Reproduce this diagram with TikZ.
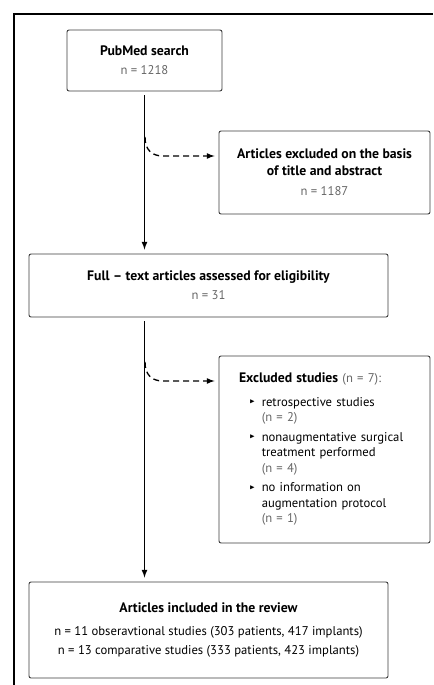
\documentclass[tikz,border=0pt]{standalone}
\usepackage{fontspec}
\setmainfont{PT Sans}
\usepackage{amssymb}
\usepackage{xcolor}
\definecolor{ngray}{HTML}{666666}
\definecolor{boxline}{HTML}{3C3C3C}

\begin{document}
\begin{tikzpicture}[x=0.75pt,y=-0.75pt,
    every node/.style={font=\fontsize{9.5}{12.5}\selectfont},
    box/.style={draw=boxline,line width=0.7pt,rounded corners=1.5pt,align=center,inner sep=0pt},
    flow/.style={line width=1pt,-latex,shorten <=3pt,shorten >=3pt},
    skip/.style={line width=1pt,-latex,dash pattern=on 4.5pt off 3pt,shorten >=3pt}]
    % Shorthands for headings, grey counts and list bullets
    \newcommand{\head}[1]{{\fontsize{10.3}{12.5}\selectfont\bfseries #1}}
    \newcommand{\ncount}[1]{\textcolor{ngray}{#1}}
    \newcommand{\tri}{\raisebox{0.35ex}{\scalebox{0.55}{$\blacktriangleright$}}}

    \useasboundingbox (0,0) rectangle (433,685);
    \draw[line width=2.2pt] (14,685) -- (14,14) -- (433,14);

    % Boxes of the flow
    \node[box,minimum width=116.25pt,minimum height=45.75pt] (search) at (144.5,60.5)
      {\head{PubMed search}\\[2pt] \ncount{n = 1218}};
    \node[box,minimum width=158.25pt,minimum height=62.25pt] (excl1) at (324.5,172.5)
      {\head{Articles excluded on the basis}\\ \head{of title and abstract}\\[3pt] \ncount{n = 1187}};
    \node[box,minimum width=269.25pt,minimum height=47.25pt] (full) at (208.5,285.5)
      {\head{Full -- text articles assessed for eligibility}\\[2pt] \ncount{n = 31}};
    \node[box,minimum width=158.25pt,minimum height=140.25pt,text width=128.25pt,align=left] (excl2) at (324.5,449.5)
      {\renewcommand{\arraystretch}{0.93}%
       \begin{tabular}{@{\hspace{8pt}}l@{\hspace{5pt}}l@{}}
         \multicolumn{2}{@{}l@{}}{\head{Excluded studies} \ncount{(n = 7):}}\\[6pt]
         \tri & retrospective studies\\
             & \ncount{(n = 2)}\\[3pt]
         \tri & nonaugmentative surgical\\
             & treatment performed\\
             & \ncount{(n = 4)}\\[3pt]
         \tri & no information on\\
             & augmentation protocol\\
             & \ncount{(n = 1)}
       \end{tabular}};
    \node[box,minimum width=269.25pt,minimum height=72pt] (final) at (208.5,630)
      {\head{Articles included in the review}\\[5pt]
       n = 11 obseravtional studies (303 patients, 417 implants)\\[2pt]
       n = 13 comparative studies (333 patients, 423 implants)};

    % Main flow
    \draw[flow] (search.south) -- (search.south |- full.north);
    \draw[flow] (search.south |- full.south) -- (search.south |- final.north);

    % Exclusions
    \coordinate (b1) at (145,137);
    \coordinate (b2) at (145,362);
    \draw[skip] (b1) .. controls (145,150) and (152,156) .. (163,156) -- (excl1.west |- 0,156);
    \draw[skip] (b2) .. controls (145,375) and (152,381) .. (163,381) -- (excl2.west |- 0,381);
\end{tikzpicture}
\end{document}
